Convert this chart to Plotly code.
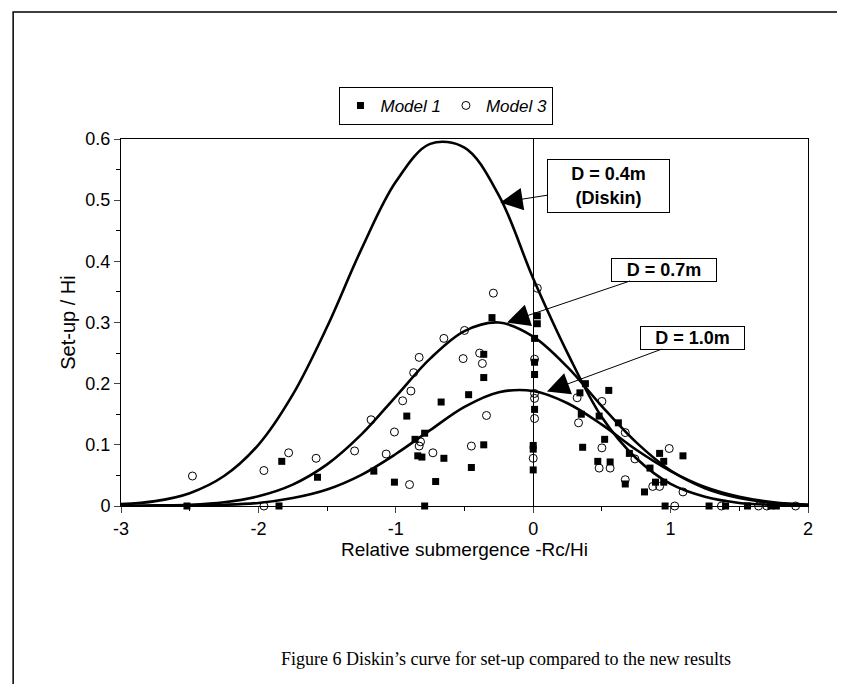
import plotly.graph_objs as go

# curves
curve_x = [-3, -2.75, -2.5, -2.25, -2, -1.75, -1.5, -1.25, -1, -0.75, -0.5, -0.25,
           0, 0.25, 0.5, 0.75, 1, 1.25, 1.5, 1.75, 2]
diskin_04 = [0.003, 0.008, 0.021, 0.049, 0.100, 0.182, 0.293, 0.420, 0.530, 0.592, 0.586, 0.508,
             0.372, 0.25, 0.145, 0.078, 0.036, 0.015, 0.005, 0.002, 0.0]
curve_07 = [0.0, 0.001, 0.002, 0.006, 0.016, 0.035, 0.068, 0.117, 0.179, 0.241, 0.286, 0.300,
            0.277, 0.227, 0.163, 0.104, 0.058, 0.029, 0.013, 0.005, 0.002]
curve_10 = [0.0, 0.0, 0.001, 0.002, 0.005, 0.013, 0.027, 0.051, 0.085, 0.124, 0.162, 0.186,
            0.188, 0.168, 0.133, 0.092, 0.057, 0.031, 0.015, 0.006, 0.002]

# Model 1 (filled squares)
m1_x = [-2.52, -1.85, -0.79, -1.83, -1.57, -1.16, -1.01,
        -0.30, -0.36, -0.36, -0.47, -0.67, -0.92, -0.79, -0.86, -0.84, -0.81, -0.65, -0.36, -0.45, -0.71,
        0.03, 0.03, 0.01, 0.01, 0.01, 0.01, 0.0, 0.0, 0.0,
        0.38, 0.34, 0.55, 0.35, 0.48, 0.62, 0.52, 0.36, 0.47, 0.56, 0.70, 0.92, 0.95, 1.09, 0.85,
        0.67, 0.89, 0.95, 0.81,
        0.96, 1.28, 1.40, 1.56, 1.73, 1.77]
m1_y = [0, 0, 0, 0.073, 0.047, 0.057, 0.039,
        0.308, 0.248, 0.210, 0.182, 0.170, 0.147, 0.119, 0.109, 0.082, 0.080, 0.078, 0.100, 0.063, 0.040,
        0.311, 0.298, 0.274, 0.235, 0.215, 0.158, 0.099, 0.093, 0.059,
        0.200, 0.185, 0.189, 0.150, 0.147, 0.136, 0.109, 0.096, 0.073, 0.072, 0.086, 0.086, 0.073, 0.082, 0.062,
        0.036, 0.039, 0.039, 0.023,
        0, 0, 0, 0, 0, 0]

# Model 3 (open circles)
m3_x = [-2.48, -1.96, -1.78, -1.58, -1.30, -1.18, -1.01, -1.07, -1.96,
        -0.29, -0.50, -0.65, -0.83, -0.51, -0.39, -0.37, -0.87, -0.89, -0.95, -0.34, -0.82, -0.83, -0.73,
        -0.45, -0.90,
        0.03, 0.01, 0.01, 0.01, 0.01, 0.0,
        0.32, 0.33, 0.50, 0.67, 0.50, 0.48, 0.56, 0.74, 0.67, 0.99, 1.09, 0.92, 0.87,
        1.03, 1.37, 1.64, 1.70, 1.91]
m3_y = [0.049, 0.058, 0.087, 0.078, 0.090, 0.141, 0.121, 0.085, 0,
        0.348, 0.287, 0.274, 0.243, 0.241, 0.250, 0.233, 0.218, 0.188, 0.172, 0.148, 0.105, 0.098, 0.087,
        0.098, 0.035,
        0.356, 0.240, 0.184, 0.176, 0.143, 0.078,
        0.177, 0.136, 0.171, 0.120, 0.095, 0.062, 0.062, 0.077, 0.043, 0.094, 0.023, 0.032, 0.032,
        0, 0, 0, 0, 0]

x_ticks = [-3, -2, -1, 0, 1, 2]
x_labels = ['-3', '-2', '-1', '0', '1', '2']

fig = go.Figure()

# curvas
for ys in [diskin_04, curve_07, curve_10]:
    fig.add_trace(go.Scatter(x=curve_x, y=ys, mode='lines', line=dict(color='black', width=2.6, shape='spline'),
                             showlegend=False, hoverinfo='skip'))

fig.add_trace(go.Scatter(x=m1_x, y=m1_y, mode='markers', name='<i>Model 1</i>', cliponaxis=False,
                         marker=dict(symbol='square', size=7, color='black')))
fig.add_trace(go.Scatter(x=m3_x, y=m3_y, mode='markers', name='<i>Model 3</i>', cliponaxis=False,
                         marker=dict(symbol='circle-open', size=8, color='black', line=dict(width=1))))

box = dict(showarrow=True, arrowhead=2, arrowsize=4.5, arrowwidth=1, arrowcolor='black',
           bordercolor='black', borderwidth=1, bgcolor='white',
           font=dict(family='Liberation Sans, Arial', size=18, color='black'))

fig.update_layout(
    width=845, height=684,
    paper_bgcolor='white', plot_bgcolor='white',
    margin=dict(l=113, r=45, t=131, b=186),
    font=dict(family='Liberation Sans, Arial', color='black'),
    xaxis=dict(range=[-3, 2], tickvals=x_ticks, ticktext=x_labels, ticks='outside', ticklen=6,
               tickfont=dict(size=18), showgrid=False, zeroline=True, zerolinecolor='black', zerolinewidth=1,
               showline=True, linecolor='black', linewidth=1, mirror=True,
               minor=dict(dtick=0.5, ticks='outside', ticklen=4, tickcolor='black'),
               title=dict(text='Relative submergence -Rc/Hi', font=dict(size=19), standoff=2)),
    yaxis=dict(range=[0, 0.6], dtick=0.1, ticks='outside', ticklen=6, tickfont=dict(size=18),
               showgrid=False, zeroline=False, showline=True, linecolor='black', linewidth=1, mirror=True,
               minor=dict(dtick=0.05, ticks='outside', ticklen=4, tickcolor='black'),
               title=dict(text='Set-up / Hi', font=dict(size=20), standoff=4)),
    legend=dict(orientation='h', x=0.318, y=1.142, xanchor='left', yanchor='top',
                bordercolor='black', borderwidth=1, font=dict(size=17), itemwidth=30),
    annotations=[
        dict(x=-0.24, y=0.496, xref='x', yref='y', ax=108, ay=-17,
             text='<b>D = 0.4m</b><br><b>(Diskin)</b>', width=119, height=50, **box),
        dict(x=-0.19, y=0.30, xref='x', yref='y', ax=157, ay=-53,
             text='<b>D = 0.7m</b>', width=102, height=20, **box),
        dict(x=0.10, y=0.187, xref='x', yref='y', ax=146, ay=-54,
             text='<b>D = 1.0m</b>', width=101, height=20, **box),
        dict(x=0.56, y=-0.45, xref='paper', yref='paper', showarrow=False,
             text='Figure 6 Diskin\u2019s curve for set-up compared to the new results',
             font=dict(family='Liberation Serif, Times New Roman', size=18, color='black')),
    ],
    shapes=[dict(type='rect', xref='paper', yref='paper', x0=-0.157, x1=1.061, y0=-0.51, y1=1.346,
                 line=dict(color='black', width=1.5))],
)

fig.write_html("out.html")
